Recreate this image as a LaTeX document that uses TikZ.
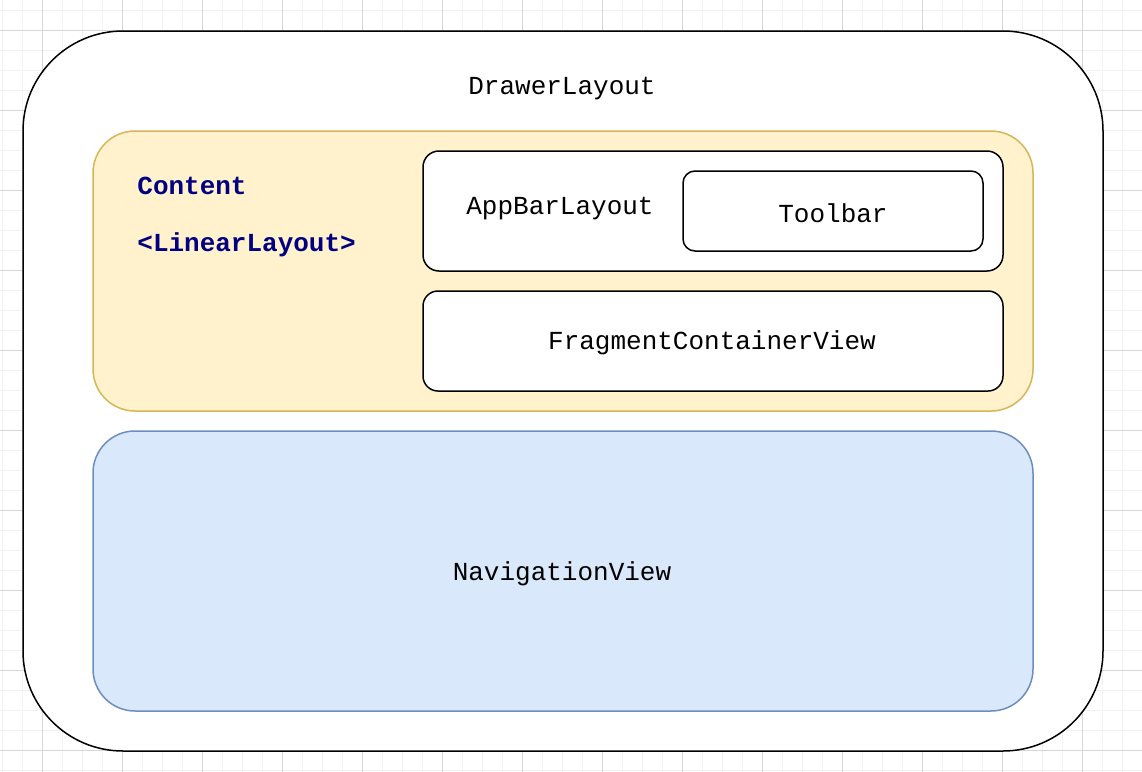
\documentclass[tikz,border=0pt]{standalone}
\usepackage{fontspec}
\setmainfont{Liberation Mono}
\definecolor{gridminor}{HTML}{F2F2F2}
\definecolor{gridmajor}{HTML}{D6D6D6}
\definecolor{yfill}{HTML}{FFF2CC}
\definecolor{ydraw}{HTML}{D6B656}
\definecolor{bfill}{HTML}{DAE8FC}
\definecolor{bdraw}{HTML}{6C8EBF}
\definecolor{navytxt}{HTML}{000080}
\begin{document}
\begin{tikzpicture}[x=0.5pt,y=-0.5pt,
  lbl/.style={font=\fontsize{13pt}{15pt}\selectfont, inner sep=0pt},
  blk/.style={draw=black, line width=0.75pt, fill=white}
]
\useasboundingbox (0,0) rectangle (1142,772);
\fill[white] (0,0) rectangle (1142,772);
% grid
\foreach \i in {0,...,57} {\draw[gridminor, line width=0.5pt] ({2.7+20*\i},0) -- ({2.7+20*\i},772);}
\foreach \j in {0,...,38} {\draw[gridminor, line width=0.5pt] (0,{10+20*\j}) -- (1142,{10+20*\j});}
\foreach \i in {0,...,13} {\draw[gridmajor, line width=0.5pt] ({42.7+80*\i},0) -- ({42.7+80*\i},772);}
\foreach \j in {0,...,9} {\draw[gridmajor, line width=0.5pt] (0,{30+80*\j}) -- (1142,{30+80*\j});}
% boxes
\draw[blk, rounded corners=50pt] (23,31) rectangle (1103,751);
\node[lbl] (drawer) at (562,89) {DrawerLayout};
\draw[draw=ydraw, fill=yfill, line width=0.75pt, rounded corners=21pt] (93,131) rectangle (1033,411);
\node[lbl, anchor=base west, text=navytxt] (content) at (137,194) {\textbf{Content}};
\node[lbl, anchor=base west, text=navytxt] (linear) at (137,251) {\textbf{<LinearLayout>}};
\draw[blk, rounded corners=8pt] (423,151) rectangle (1003,271);
\node[lbl] (appbar) at (560,209) {AppBarLayout};
\draw[blk, rounded corners=6pt] (683,171) rectangle (983,251);
\node[lbl] (toolbar) at (833,213) {Toolbar};
\draw[blk, rounded corners=7.5pt] (423,291) rectangle (1003,391);
\node[lbl] (frag) at (712,343) {FragmentContainerView};
\draw[draw=bdraw, fill=bfill, line width=0.75pt, rounded corners=21pt] (93,431) rectangle (1033,711);
\node[lbl] (nav) at (562,574) {NavigationView};
\end{tikzpicture}
\end{document}
